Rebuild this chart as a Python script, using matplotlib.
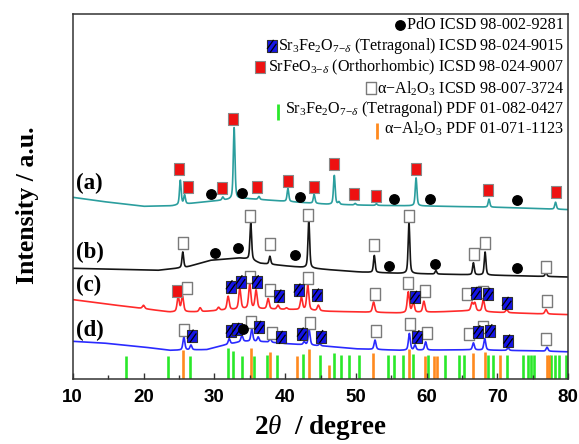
import numpy as np
import matplotlib
matplotlib.use("Agg")
import matplotlib.pyplot as plt
from matplotlib.path import Path
from matplotlib.ticker import MultipleLocator

plt.rcParams['font.family'] = ['Liberation Serif', 'DejaVu Serif']
plt.rcParams['mathtext.fontset'] = 'custom'
plt.rcParams['mathtext.rm'] = 'Liberation Serif'
plt.rcParams['mathtext.it'] = 'Liberation Serif:italic'
plt.rcParams['mathtext.bf'] = 'Liberation Serif:bold'

# ---- background points (2theta, intensity a.u.) ----
bg_a_x = [10, 14, 20, 24, 28, 31, 34, 38, 42, 46, 52, 60, 70, 80]
bg_a_y = [182, 178, 173, 173.5, 177, 179, 181, 179, 177, 175, 174, 173.3, 172, 169.7]
bg_b_x = [10, 16, 22, 26, 29.4, 33.6, 35, 36.5, 40.7, 46, 50.6, 56, 70, 80]
bg_b_y = [111, 110, 109, 112, 119, 121.3, 120, 116, 113, 109.7, 107.3, 106, 104, 102.3]
bg_c_x = [10, 14.3, 20, 23.7, 28, 30.8, 35, 41.2, 46, 50.6, 56.2, 62, 65.6, 70, 75, 80]
bg_c_y = [79.7, 75.7, 70.7, 67.3, 67.5, 69, 70.5, 69.7, 68, 67.3, 66.3, 67.5, 68.5, 67, 65.7, 64.7]
bg_d_x = [10, 14.3, 20, 23.7, 28.9, 31.3, 34, 37, 40, 46, 50, 56.2, 65.6, 75, 80]
bg_d_y = [38, 36.3, 32.3, 29, 29.7, 34, 38, 37.5, 35.7, 33, 30.5, 29, 29.5, 28.5, 27.5]

# ---- peaks: position and height above background ----
pk_a_pos = [25.2, 25.8, 31.2, 32.8, 36.3, 40.4, 44.1, 46.95, 47.6, 49.9, 52.9, 58.5, 68.8, 78.2]
pk_a_amp = [24.4, 9, 3, 71.5, 3, 13, 9, 29, 2.5, 1.5, 1.6, 28, 8, 7]
pk_b_pos = [25.55, 35.15, 37.85, 43.35, 52.6, 57.5, 61.3, 66.6, 68.25, 76.85]
pk_b_amp = [15.7, 37, 8, 48, 17, 51, 3.5, 12, 23, 4.5]
pk_c_pos = [20.0, 24.9, 25.5, 28.0, 30.6, 31.95, 33.6, 35.0, 35.9, 37.6, 39.0, 40.2, 42.3, 43.2,
            44.7, 52.5, 57.4, 58.1, 59.6, 66.4, 66.8, 68.0, 71.3, 76.85]
pk_c_amp = [3.3, 15, 15.7, 4, 3, 13.5, 20.5, 24.5, 18.5, 10.5, 4, 1.5, 12.5, 25,
            5.5, 10.3, 20.7, 10.5, 11, 8, 8, 12, 3, 4.5]
pk_d_pos = [25.7, 26.7, 32.1, 33.9, 35.3, 36.2, 37.9, 39.3, 42.7, 43.4, 44.9, 52.7, 57.55,
            58.35, 59.85, 66.6, 68.2, 71.5, 77.0]
pk_d_amp = [13, 4.8, 5.5, 6, 12.8, 4.6, 3.7, 2.5, 3, 15, 2, 9.4, 16.7, 5, 8.2, 7, 11.5, 2.5, 4]

# ---- phase markers (2theta, intensity) ----
srfeo3_x = [25.06, 26.33, 31.1, 32.66, 36.07, 40.37, 44.08, 46.95, 49.8, 52.9, 58.5, 68.7, 78.2, 24.7]
srfeo3_y = [210, 192, 191.5, 260, 192, 198, 192, 215, 185.5, 183.5, 210, 189, 187.5, 88.5]
pdo_x = [29.5, 33.95, 42.1, 55.4, 60.5, 72.7, 30.1, 33.4, 41.4, 54.7, 61.2, 72.7, 34.1]
pdo_y = [185, 186.5, 182.5, 180.5, 180, 179, 126, 131, 124.3, 113.5, 115, 111, 50.3]
al2o3_x = [25.6, 35.1, 37.9, 43.3, 52.6, 57.5, 66.7, 68.3, 76.9,
           26.2, 35.0, 37.8, 43.2, 52.7, 57.3, 59.75, 65.65, 68.0, 76.95,
           25.7, 35.2, 38.1, 43.55, 52.8, 57.6, 60.1, 65.97, 67.9, 76.85]
al2o3_y = [136, 163.3, 135, 164.3, 134.3, 163.3, 125, 136, 112.3,
           91, 102.6, 89.3, 101, 85.3, 96, 88.6, 85, 87.6, 78.6,
           49.3, 57.6, 46, 56.8, 48.3, 55.3, 46, 45, 52.6, 40.3]
sr3fe2o7_x = [32.3, 33.7, 36.0, 39.2, 41.9, 44.5, 58.35, 66.9, 68.7, 71.3,
              26.8, 32.3, 33.25, 36.35, 39.4, 42.35, 45.1, 58.7, 67.3, 69.0, 71.5]
sr3fe2o7_y = [92.6, 97.6, 97.6, 83.3, 89.3, 84.3, 82, 86, 85, 76,
              43.3, 48.3, 50, 52, 42, 45.3, 42.8, 42.6, 47.6, 48.6, 38.3]

# ---- reference patterns (PDF) ----
pdf_sr3_x = [17.5, 23.4, 26.6, 32.0, 32.7, 33.9, 35.6, 37.4, 38.9, 42.5, 44.9, 46.95, 47.9, 49.07,
             50.5, 54.6, 55.4, 56.6, 58.1, 60.2, 62.6, 64.6, 65.2, 68.6, 69.3, 71.4, 73.6, 74.3,
             74.75, 75.1, 77.6, 78.1, 78.65, 79.65]
pdf_sr3_h = [23.5, 23.5, 23.5, 31.3, 28.3, 23.5, 23, 24, 24, 25.7, 24, 26.7, 24, 24,
             24, 24, 24, 24, 25.7, 24, 24, 24, 24, 24, 24, 24, 24, 24,
             24, 24, 24, 24, 24, 24]
pdf_al_x = [25.6, 35.15, 37.8, 41.65, 43.4, 46.25, 52.4, 57.5, 59.8, 61.0, 61.4, 66.5, 68.2,
            70.4, 76.95, 77.3]
pdf_al_h = [29, 31.3, 27.3, 23.3, 30.7, 14, 26.7, 30, 23.3, 23.3, 23.3, 26.3, 27.3,
            24, 24.7, 24.7]

labels = ['(a)', '(b)', '(c)', '(d)']
label_y = [196, 127, 94, 49]

legend_text = ['PdO ICSD 98-002-9281',
               r'Sr$_3$Fe$_2$O$_{7{-}\delta}$ (Tetragonal) ICSD 98-024-9015',
               r'SrFeO$_{3{-}\delta}$ (Orthorhombic) ICSD 98-024-9007',
               'α−Al$_2$O$_3$ ICSD 98-007-3724',
               r'Sr$_3$Fe$_2$O$_{7{-}\delta}$ (Tetragonal) PDF 01-082-0427',
               'α−Al$_2$O$_3$ PDF 01-071-1123']
legend_y = [354.3, 333, 312, 291, 270, 251]

tt = np.linspace(10, 80, 2801)


def pattern(bx, by, pos, amp, fwhm):
    y = np.interp(tt, bx, by)
    for p, a in zip(pos, amp):
        u = (tt - p) / (fwhm / 2)
        y = y + a * (0.5 / (1 + u ** 2) + 0.5 * np.exp(-np.log(2) * u ** 2))
    return y


rect = Path([(-0.36, -0.5), (0.36, -0.5), (0.36, 0.5), (-0.36, 0.5), (-0.36, -0.5)],
            [Path.MOVETO, Path.LINETO, Path.LINETO, Path.LINETO, Path.CLOSEPOLY])
# two diagonal strokes drawn over the blue boxes
stripes = Path([(-0.36, -0.2), (0.14, 0.5), (-0.14, -0.5), (0.36, 0.2)],
               [Path.MOVETO, Path.LINETO, Path.MOVETO, Path.LINETO])


def blue_box(x, y, z=4):
    ax.scatter(x, y, marker=rect, s=ms ** 2, facecolor='#1414e6', edgecolor='#303030',
               lw=0.8, zorder=z)
    ax.scatter(x, y, marker=stripes, s=ms ** 2, facecolor='none', edgecolor='black',
               lw=0.9, zorder=z)


fig = plt.figure(figsize=(5.79, 4.44), dpi=100)
ax = fig.add_axes([0.1256, 0.1457, 0.8559, 0.8234])

# reference sticks
ax.vlines(pdf_sr3_x, 0, pdf_sr3_h, color='#2ae82a', lw=1.9, zorder=1)
ax.vlines(pdf_al_x, 0, pdf_al_h, color='#ff8a1e', lw=1.9, zorder=1)

ax.plot(tt, pattern(bg_a_x, bg_a_y, pk_a_pos, pk_a_amp, 0.28), color='#2b9e9e', lw=1.2, zorder=2)
ax.plot(tt, pattern(bg_b_x, bg_b_y, pk_b_pos, pk_b_amp, 0.28), color='#151515', lw=1.2, zorder=2)
ax.plot(tt, pattern(bg_c_x, bg_c_y, pk_c_pos, pk_c_amp, 0.36), color='#ff2a2a', lw=1.2, zorder=2)
ax.plot(tt, pattern(bg_d_x, bg_d_y, pk_d_pos, pk_d_amp, 0.32), color='#2a2aff', lw=1.2, zorder=2)

ms = 9.3
ax.scatter(al2o3_x, al2o3_y, marker=rect, s=ms ** 2, facecolor='white', edgecolor='#7a7a7a',
           lw=1.0, zorder=3)
blue_box(sr3fe2o7_x, sr3fe2o7_y)
ax.scatter(srfeo3_x, srfeo3_y, marker=rect, s=ms ** 2, facecolor='#ee1111', edgecolor='#8a8a8a',
           lw=0.8, zorder=4)
ax.scatter(pdo_x, pdo_y, marker='o', s=6.8 ** 2, facecolor='black', edgecolor='black', zorder=5)

for lab, ly in zip(labels, label_y):
    ax.text(10.45, ly, lab, fontsize=16.5, fontweight='bold', ha='left', va='center')

ax.set_xlim(10, 80)
ax.set_ylim(0, 365.6)
ax.xaxis.set_major_locator(MultipleLocator(10))
ax.xaxis.set_minor_locator(MultipleLocator(5))
ax.tick_params(axis='x', which='major', direction='in', length=4.5, width=1.0, pad=7,
               labelsize=13.5, color='#333333')
ax.tick_params(axis='x', which='minor', direction='in', length=2.8, width=1.0, color='#333333')
ax.set_yticks([])
for lbl in ax.get_xticklabels():
    lbl.set_fontfamily('Liberation Sans')
    lbl.set_fontweight('bold')
for sp in ax.spines.values():
    sp.set_color('#333333')
    sp.set_linewidth(1.1)

ax.set_xlabel(r'2$\theta$  / degree', fontsize=19.5, fontweight='bold', labelpad=5)
ax.set_ylabel('Intensity / a.u.', fontsize=18.5, fontweight='bold')
ax.yaxis.set_label_coords(-0.068, 0.477)

# legend: right aligned text, marker right in front of each line
texts = []
for s, ly in zip(legend_text, legend_y):
    texts.append(ax.text(79.4, ly, s, fontsize=11.6, ha='right', va='center'))

fig.canvas.draw()
rend = fig.canvas.get_renderer()
inv = ax.transData.inverted()
gaps = [7, 6, 8, 6, 7, 7]
for i, t in enumerate(texts):
    bb = t.get_window_extent(rend)
    ydisp = ax.transData.transform((0, legend_y[i]))[1]
    mx, my = inv.transform((bb.x0 - gaps[i], ydisp))
    if i == 0:
        ax.scatter([mx], [my], marker='o', s=6.8 ** 2, color='black', zorder=5)
    elif i == 1:
        blue_box([mx], [my], z=5)
    elif i == 2:
        ax.scatter([mx], [my], marker=rect, s=ms ** 2, facecolor='#ee1111', edgecolor='#8a8a8a',
                   lw=0.8, zorder=5)
    elif i == 3:
        ax.scatter([mx], [my], marker=rect, s=ms ** 2, facecolor='white', edgecolor='#7a7a7a',
                   lw=1.0, zorder=5)
    else:
        col = '#2ae82a' if i == 4 else '#ff8a1e'
        ax.plot([mx], [my - 3], marker='|', ms=12, mew=2, color=col)

fig.savefig('out.png', dpi=100)
